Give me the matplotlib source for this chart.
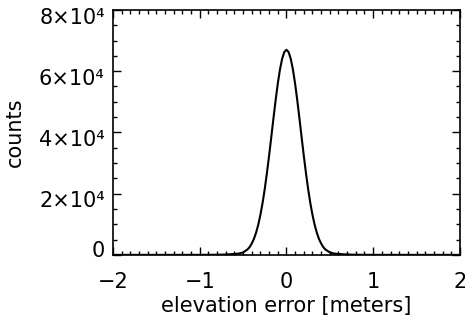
import numpy as np
import matplotlib
matplotlib.use('Agg')
import matplotlib.pyplot as plt
import matplotlib.transforms as mtrans
from matplotlib.ticker import MultipleLocator, FuncFormatter

plt.rcParams['font.family'] = ['DejaVu Sans']

# elevation error histogram
err = [-2.0, -1.5, -1.0, -0.9, -0.8, -0.7, -0.6, -0.55, -0.5, -0.45, -0.425, -0.4, -0.375,
       -0.35, -0.325, -0.3, -0.275, -0.25, -0.225, -0.2, -0.175, -0.15, -0.125, -0.1,
       -0.075, -0.05, -0.025, 0.0, 0.025, 0.05, 0.075, 0.1, 0.125, 0.15, 0.175, 0.2,
       0.225, 0.25, 0.275, 0.3, 0.325, 0.35, 0.375, 0.4, 0.425, 0.45, 0.5, 0.55, 0.6,
       0.7, 0.8, 0.9, 1.0, 1.5, 2.0]
counts = [0, 0, 10, 20, 50, 120, 300, 420, 800, 1750, 2530, 3700, 5220,
          7250, 9850, 13100, 16980, 21550, 26740, 32400, 38430, 44550, 50460, 55900,
          60500, 64000, 66240, 67000, 66240, 64000, 60500, 55900, 50460, 44550, 38430, 32400,
          26740, 21550, 16980, 13100, 9850, 7250, 5220, 3700, 2530, 1750, 800, 420, 300,
          120, 50, 20, 10, 0, 0]

fig = plt.figure(figsize=(4.65, 3.21), dpi=100)
ax = fig.add_axes([0.243, 0.206, 0.746, 0.763])

ax.plot(err, counts, color='black', lw=1.5)

ax.set_xlim(-2, 2)
ax.set_ylim(0, 80000)
ax.xaxis.set_major_locator(MultipleLocator(1))
ax.xaxis.set_minor_locator(MultipleLocator(0.1))
ax.yaxis.set_major_locator(MultipleLocator(20000))
ax.yaxis.set_minor_locator(MultipleLocator(5000))

def yfmt(v, pos):
    if v == 0:
        return '0'
    return '%d\u00d710\u2074' % int(round(v / 1e4))

def xfmt(v, pos):
    return ('%d' % v).replace('-', '\u2212')

ax.yaxis.set_major_formatter(FuncFormatter(yfmt))
ax.xaxis.set_major_formatter(FuncFormatter(xfmt))

ax.tick_params(which='both', direction='in', top=True, right=True, labelsize=15, width=1.0)
ax.tick_params(which='major', length=6)
ax.tick_params(which='minor', length=3)
ax.tick_params(axis='x', pad=12)
ax.tick_params(axis='y', pad=6)
for s in ax.spines.values():
    s.set_linewidth(1.2)

# y labels sit a little below their ticks, the 0 a little above
fig.canvas.draw()
locs = ax.yaxis.get_majorticklocs()
for loc, t in zip(locs, ax.yaxis.get_major_ticks(len(locs))):
    dy = 4 if abs(loc) < 1 else -4
    shift = mtrans.ScaledTranslation(0, dy / 72, fig.dpi_scale_trans)
    t.label1.set_transform(t.label1.get_transform() + shift)

ax.set_xlabel('elevation error [meters]', fontsize=15, labelpad=3)
ax.set_ylabel('counts', fontsize=15, labelpad=10)

fig.savefig('out.png', dpi=100)
